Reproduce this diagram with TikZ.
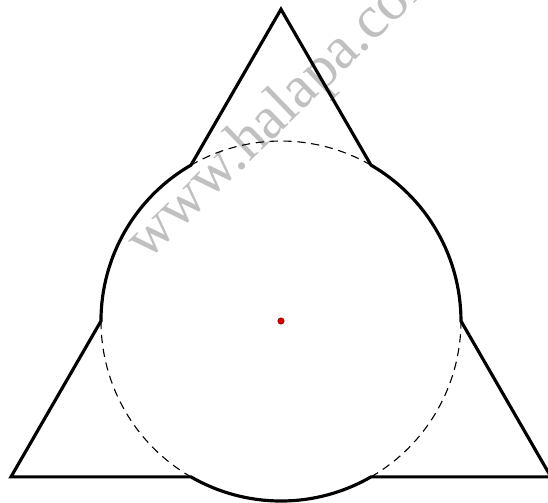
\documentclass[tikz,border=0pt]{standalone}
\usepackage{fontspec}
\newfontfamily\markfont{Liberation Serif}
\usetikzlibrary{calc}
\definecolor{mInk}{HTML}{000000}
\definecolor{mDot}{HTML}{E00000}
\definecolor{mMark}{HTML}{C0C0C0}

\begin{document}
\begin{tikzpicture}[
  outline/.style={draw=mInk, line width=1pt},
  hidden/.style={draw=mInk, line width=0.35pt, dash pattern=on 2.6pt off 1.8pt},
]
  % Frame
  \useasboundingbox (-3.122,-2.02) rectangle (2.967,3.567);

  % Watermark
  \node[mMark, font=\markfont\fontsize{19}{19}\selectfont, rotate=44, anchor=base west,
        inner sep=0pt] (mark) at (-1.49,0.66) {www.halapa.com};

  % Triangle corners and centre
  \coordinate (O) at (0,0);
  \coordinate (A) at (90:{2*sqrt(3)});
  \coordinate (B) at (210:{2*sqrt(3)});
  \coordinate (C) at (330:{2*sqrt(3)});

  % Hidden parts of the circle
  \foreach \a in {60,180,300} {
    \draw[hidden] (\a:2) arc[start angle=\a, delta angle=60, radius=2];
  }

  % Outer contour
  \draw[outline] (A) -- ($(A)!1/3!(B)$) arc[start angle=120, end angle=180, radius=2]
    -- (B) -- ($(B)!1/3!(C)$) arc[start angle=240, end angle=300, radius=2]
    -- (C) -- ($(C)!1/3!(A)$) arc[start angle=0, end angle=60, radius=2] -- cycle;

  % Centre point
  \fill[mDot, draw=mDot!60!black, line width=0.2pt] (O) circle (0.035);
\end{tikzpicture}
\end{document}
